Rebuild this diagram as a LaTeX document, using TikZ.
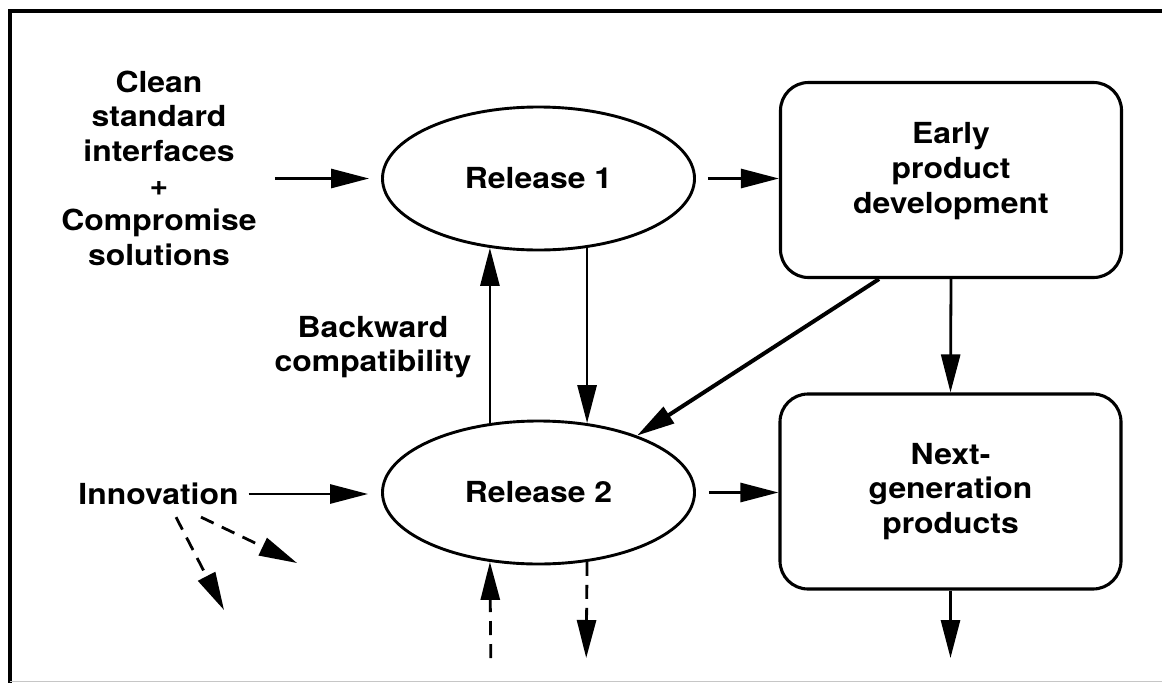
\documentclass[tikz,border=0pt]{standalone}
\usepackage{fontspec}
\setmainfont{TeX Gyre Heros}[FakeStretch=1.1]
\usepackage{tikz}
\usetikzlibrary{arrows.meta}
\usetikzlibrary{positioning, shapes.geometric}
\tikzset{ 
release/.style = { ellipse, draw = black, line width = 2.9pt, minimum width = 312pt, minimum height = 143pt, inner sep = 0pt },
product/.style = { rectangle, draw = black, line width = 3.1pt, minimum width = 341pt, minimum height = 195pt, rounded corners = 28pt, align = center },
caption/.style = { align = center, inner sep = 0pt },
flow/.style = { ->, line width = 2.8pt },
weak flow/.style = { ->, line width = 2.8pt, dash pattern = on 14pt off 9pt },
}

\begin{document}
\begin{tikzpicture}[x=1pt, y=-1pt, font=\fontsize{29}{34.6}\selectfont\bfseries,
                    >={Triangle[length=38pt, width=19pt]}]
    \useasboundingbox (0,0) rectangle (1162,683);
    \draw[line width=4pt] (1162,10.5) -- (9.5,10.5) -- (9.5,683);
    \draw[gray!45, line width=1.5pt] (9.5,681.5) -- (1162,681.5);
    \begin{scope}[every node/.style={caption}]
      \node (clean) at (159,168) {Clean\\standard\\interfaces\\+\\Compromise\\solutions};
      \node (innov) at (158.5,494) {Innovation};
      \node (compat) at (373,347) {Backward\\compatibility};
      \node (earlytext) at (951,171) {Early\\product\\development};
    \end{scope}
    \node[release] (r1) at (538.5,178.5) {Release 1};
    \node[release] (r2) at (538.5,492.5) {Release 2};
    \node[product] (early) at (951,180) {};
    \node[product] (next) at (950.5,491.5) {Next-\\generation\\products};
    \coordinate (spread1) at (224,610);
    \coordinate (spread2) at (297,563);
    \coordinate (feedin) at (490.8,658);
    \coordinate (feedout) at (586.2,658);
    \coordinate (market) at (950.5,658);
    \begin{scope}[flow]
      \path (clean.east |- r1.west) edge [shorten <=18pt, shorten >=12pt] (r1.west);
      \path (r1.east) edge [shorten <=12pt] (r1.east -| early.west);
      \path (innov.east) edge [shorten <=10pt, shorten >=13pt] (innov.east -| r2.west);
      \path (r2.east) edge [shorten <=13pt] (r2.east -| next.west);
      \path (r2.125) edge (r2.125 |- r1.235);
      \path (r1.305) edge (r1.305 |- r2.55);
      \path (early.south) edge (next.north);
      \path (next.south) edge (market);
      \path [line width=4pt] ([xshift=-72pt]early.south) edge (r2.30);
    \end{scope}
    \begin{scope}[weak flow]
      \path ([xshift=17.5pt, yshift=-12pt]innov.south) edge (spread1);
      \path ([xshift=42.5pt, yshift=-12pt]innov.south) edge (spread2);
      \path (feedin) edge (r2.235);
      \path (r2.305) edge (feedout);
    \end{scope}
\end{tikzpicture}
\end{document}
